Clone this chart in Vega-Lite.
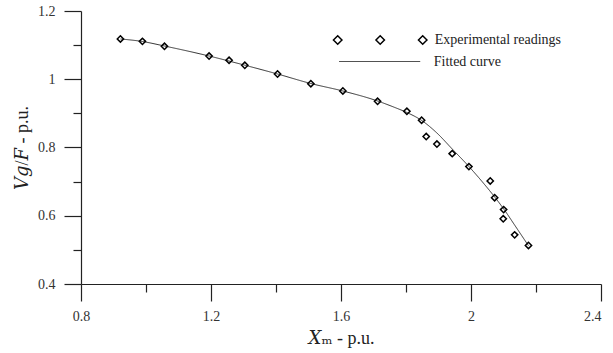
{
  "$schema": "https://vega.github.io/schema/vega-lite/v6.json",
  "width": 520,
  "height": 273,
  "autosize": "none",
  "padding": {"left": 81, "top": 11, "right": 12, "bottom": 69},
  "background": "white",
  "config": {
    "view": {"stroke": null},
    "font": "Liberation Serif",
    "axis": {
      "grid": false,
      "domainColor": "#222",
      "domainWidth": 1.2,
      "tickColor": "#222",
      "tickWidth": 1.2,
      "labelFont": "Liberation Serif",
      "labelFontSize": 14,
      "labelColor": "#333",
      "titleFont": "Liberation Serif, DejaVu Serif",
      "titleFontSize": 18,
      "titleFontWeight": "normal",
      "titleColor": "#222"
    }
  },
  "datasets": {
    "readings": [
      {"xm": 0.9213, "v": 1.118, "series": "Experimental readings"},
      {"xm": 0.989, "v": 1.111, "series": "Experimental readings"},
      {"xm": 1.0568, "v": 1.0966, "series": "Experimental readings"},
      {"xm": 1.1941, "v": 1.068, "series": "Experimental readings"},
      {"xm": 1.2556, "v": 1.0555, "series": "Experimental readings"},
      {"xm": 1.304, "v": 1.041, "series": "Experimental readings"},
      {"xm": 1.4047, "v": 1.0154, "series": "Experimental readings"},
      {"xm": 1.5072, "v": 0.987, "series": "Experimental readings"},
      {"xm": 1.6057, "v": 0.9656, "series": "Experimental readings"},
      {"xm": 1.7125, "v": 0.9354, "series": "Experimental readings"},
      {"xm": 1.8027, "v": 0.906, "series": "Experimental readings"},
      {"xm": 1.848, "v": 0.88, "series": "Experimental readings"},
      {"xm": 1.8622, "v": 0.832, "series": "Experimental readings"},
      {"xm": 1.8951, "v": 0.81, "series": "Experimental readings"},
      {"xm": 1.9422, "v": 0.782, "series": "Experimental readings"},
      {"xm": 1.9936, "v": 0.744, "series": "Experimental readings"},
      {"xm": 2.0592, "v": 0.702, "series": "Experimental readings"},
      {"xm": 2.0727, "v": 0.653, "series": "Experimental readings"},
      {"xm": 2.1004, "v": 0.618, "series": "Experimental readings"},
      {"xm": 2.0992, "v": 0.591, "series": "Experimental readings"},
      {"xm": 2.1343, "v": 0.544, "series": "Experimental readings"},
      {"xm": 2.1768, "v": 0.513, "series": "Experimental readings"}
    ],
    "curve": [
      {"xm": 0.9213, "v": 1.118, "curve": "Fitted curve"},
      {"xm": 0.989, "v": 1.1106, "curve": "Fitted curve"},
      {"xm": 1.0568, "v": 1.0974, "curve": "Fitted curve"},
      {"xm": 1.1941, "v": 1.0681, "curve": "Fitted curve"},
      {"xm": 1.304, "v": 1.0412, "curve": "Fitted curve"},
      {"xm": 1.4047, "v": 1.0154, "curve": "Fitted curve"},
      {"xm": 1.5072, "v": 0.9875, "curve": "Fitted curve"},
      {"xm": 1.6057, "v": 0.9656, "curve": "Fitted curve"},
      {"xm": 1.7125, "v": 0.9363, "curve": "Fitted curve"},
      {"xm": 1.7658, "v": 0.9172, "curve": "Fitted curve"},
      {"xm": 1.8027, "v": 0.9026, "curve": "Fitted curve"},
      {"xm": 1.848, "v": 0.8794, "curve": "Fitted curve"},
      {"xm": 1.8951, "v": 0.8425, "curve": "Fitted curve"},
      {"xm": 1.9422, "v": 0.7956, "curve": "Fitted curve"},
      {"xm": 1.9936, "v": 0.7443, "curve": "Fitted curve"},
      {"xm": 2.0327, "v": 0.7018, "curve": "Fitted curve"},
      {"xm": 2.0737, "v": 0.654, "curve": "Fitted curve"},
      {"xm": 2.1014, "v": 0.6189, "curve": "Fitted curve"},
      {"xm": 2.1383, "v": 0.567, "curve": "Fitted curve"},
      {"xm": 2.1768, "v": 0.5122, "curve": "Fitted curve"}
    ]
  },
  "encoding": {
    "x": {
      "field": "xm",
      "type": "quantitative",
      "scale": {"domain": [0.8, 2.4], "nice": false, "zero": false},
      "axis": {
        "title": "𝑋ₘ - p.u.",
        "values": [0.8, 1.0, 1.2, 1.4, 1.6, 1.8, 2.0, 2.2, 2.4],
        "labelExpr": "round(datum.value*10)%4==0 ? format(datum.value, '~g') : ''",
        "tickSize": {"condition": {"test": "round(datum.value*10)%4==0", "value": 17}, "value": 8},
        "labelAlign": {"condition": {"test": "datum.value > 2.3", "value": "right"}, "value": "center"},
        "labelPadding": 8,
        "titlePadding": 6
      }
    },
    "y": {
      "field": "v",
      "type": "quantitative",
      "scale": {"domain": [0.4, 1.2], "nice": false, "zero": false},
      "axis": {
        "title": "𝑉𝑔/𝐹 - p.u.",
        "values": [0.4, 0.5, 0.6, 0.7, 0.8, 0.9, 1.0, 1.1, 1.2],
        "labelExpr": "round(datum.value*10)%2==0 ? format(datum.value, '~g') : ''",
        "tickSize": {"condition": {"test": "round(datum.value*10)%2==0", "value": 17}, "value": 8},
        "labelPadding": 9,
        "titlePadding": 6
      }
    }
  },
  "layer": [
    {
      "data": {"name": "curve"},
      "mark": {"type": "line", "color": "#333", "strokeWidth": 1, "interpolate": "monotone"},
      "encoding": {
        "strokeDash": {
          "field": "curve",
          "type": "nominal",
          "scale": {"domain": ["Fitted curve"], "range": [[1, 0]]},
          "legend": {
            "title": null,
            "orient": "none",
            "legendX": 257.7,
            "legendY": 9.5,
            "padding": 0,
            "symbolType": "stroke",
            "symbolSize": 6561,
            "symbolStrokeWidth": 1,
            "symbolStrokeColor": "#333",
            "labelFont": "Liberation Serif",
            "labelFontSize": 14,
            "labelColor": "#222",
            "labelOffset": 13
          }
        }
      }
    },
    {
      "data": {"name": "readings"},
      "mark": {"type": "point", "shape": "diamond", "filled": false, "size": 40, "strokeWidth": 1.5, "opacity": 1},
      "encoding": {
        "color": {
          "field": "series",
          "type": "nominal",
          "scale": {"domain": ["Experimental readings"], "range": ["black"]},
          "legend": {
            "title": null,
            "orient": "none",
            "legendX": 255.7,
            "legendY": -14.5,
            "padding": 0,
            "symbolType": "M-1.1,0L-1,-0.1L-0.9,0L-1,0.1Z M-0.1,0L0,-0.1L0.1,0L0,0.1Z M0.9,0L1,-0.1L1.1,0L1,0.1Z",
            "symbolSize": 7225,
            "symbolStrokeWidth": 1.5,
            "symbolFillColor": "transparent",
            "labelFont": "Liberation Serif",
            "labelFontSize": 14,
            "labelColor": "#222",
            "labelOffset": 11
          }
        }
      }
    }
  ]
}
